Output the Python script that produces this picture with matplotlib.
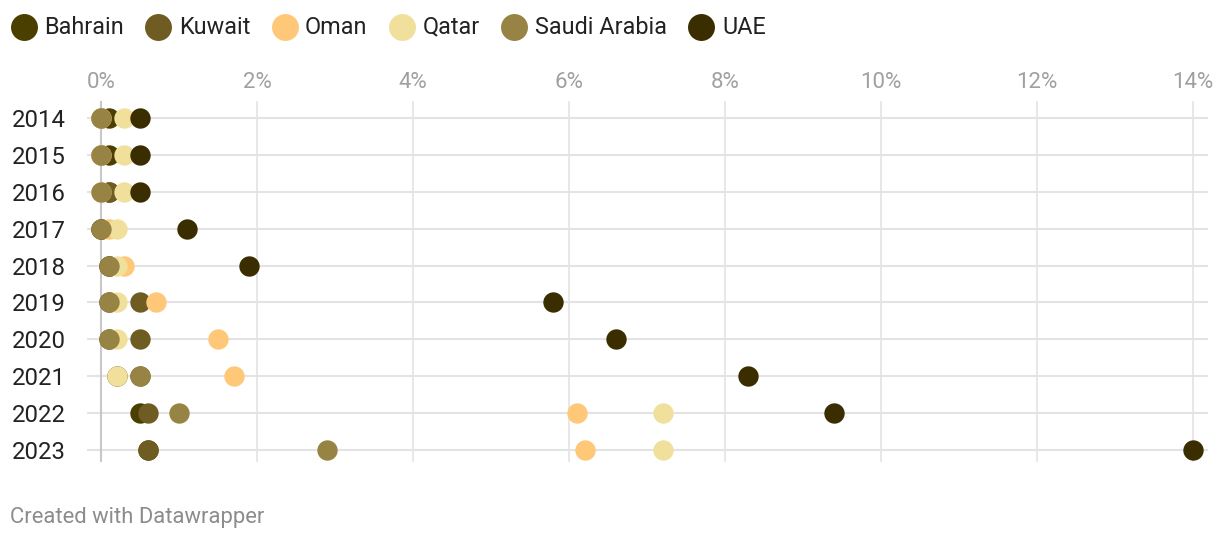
import matplotlib
matplotlib.use("Agg")
import matplotlib.pyplot as plt
from matplotlib.lines import Line2D

years = ["2014", "2015", "2016", "2017", "2018", "2019", "2020", "2021", "2022", "2023"]
bahrain = [0.1, 0.1, 0.1, 0.0, 0.1, 0.1, 0.1, 0.2, 0.5, 0.6]
kuwait = [0.0, 0.0, 0.1, 0.0, 0.1, 0.5, 0.5, 0.5, 0.6, 0.6]
oman = [0.0, 0.0, 0.0, 0.1, 0.3, 0.7, 1.5, 1.7, 6.1, 6.2]
qatar = [0.3, 0.3, 0.3, 0.2, 0.2, 0.2, 0.2, 0.2, 7.2, 7.2]
saudi = [0.0, 0.0, 0.0, 0.0, 0.1, 0.1, 0.1, 0.5, 1.0, 2.9]
uae = [0.5, 0.5, 0.5, 1.1, 1.9, 5.8, 6.6, 8.3, 9.4, 14.0]
xticks = [0, 2, 4, 6, 8, 10, 12, 14]
xtick_labels = ["0%", "2%", "4%", "6%", "8%", "10%", "12%", "14%"]

series = [
    ("Bahrain", bahrain, "#4b3f00"),
    ("Kuwait", kuwait, "#6e5c22"),
    ("Oman", oman, "#ffc878"),
    ("Qatar", qatar, "#f0e09c"),
    ("Saudi Arabia", saudi, "#978445"),
    ("UAE", uae, "#3a2d00"),
]

plt.rcParams['font.family'] = ['Roboto', 'DejaVu Sans']
fig = plt.figure(figsize=(12.2, 5.42), dpi=100)
W, H = 1220, 542
x0_px, x1_px = 87, 1208
px_per_unit = 78.0
xmin = (x0_px - 101) / px_per_unit
xmax = (x1_px - 101) / px_per_unit
y_top_px, y_bot_px = 100, 468
ax = fig.add_axes([x0_px / W, 1 - y_bot_px / H, (x1_px - x0_px) / W, (y_bot_px - y_top_px) / H])
ax.set_xlim(xmin, xmax)
row_step = (450 - 118) / 9
ytop_val = -(118 - y_top_px) / row_step
ybot_val = 9 + (y_bot_px - 450) / row_step
ax.set_ylim(ybot_val, ytop_val)

for s in ax.spines.values():
    s.set_visible(False)

ypos = list(range(len(years)))
for y in ypos:
    ax.axhline(y, color="#e3e3e3", lw=1.5, zorder=1)
for xt in xticks:
    ax.plot([xt, xt], [ybot_val - 0.2, ytop_val + 0.05], color="#c8c8c8" if xt == 0 else "#e3e3e3",
            lw=1.5 if xt == 0 else 1.2, zorder=1, clip_on=False)

for i, (name, vals, col) in enumerate(series):
    ax.scatter(vals, ypos, s=215, color=col, zorder=3 + i, linewidths=0)

ax.set_yticks(ypos)
ax.set_yticklabels(years, fontsize=17.2, color="#222222")
ax.tick_params(axis="y", length=0, pad=15)
ax.set_xticks(xticks)
ax.set_xticklabels(xtick_labels, fontsize=16, color="#a0a0a0")
ax.get_xticklabels()[-1].set_horizontalalignment("right")
ax.xaxis.tick_top()
ax.tick_params(axis="x", length=0, pad=5)

# legend laid out manually in pixel space
renderer = fig.canvas.get_renderer()
leg_y = 1 - 27 / H
x = 10.0
for name, _, col in series:
    fig.add_artist(Line2D([(x + 13.5) / W], [leg_y], marker="o", markersize=19.4,
                          markerfacecolor=col, markeredgewidth=0, lw=0,
                          transform=fig.transFigure))
    t = fig.text((x + 34) / W, leg_y, name, fontsize=16.8, color="#222222", va="center", ha="left")
    bb = t.get_window_extent(renderer)
    x = bb.x1 + 21

fig.text(10 / W, 1 - 517 / H, "Created with Datawrapper", fontsize=15.8, color="#8c8c8c", va="center")

fig.savefig("out.png", dpi=100, facecolor="white")
